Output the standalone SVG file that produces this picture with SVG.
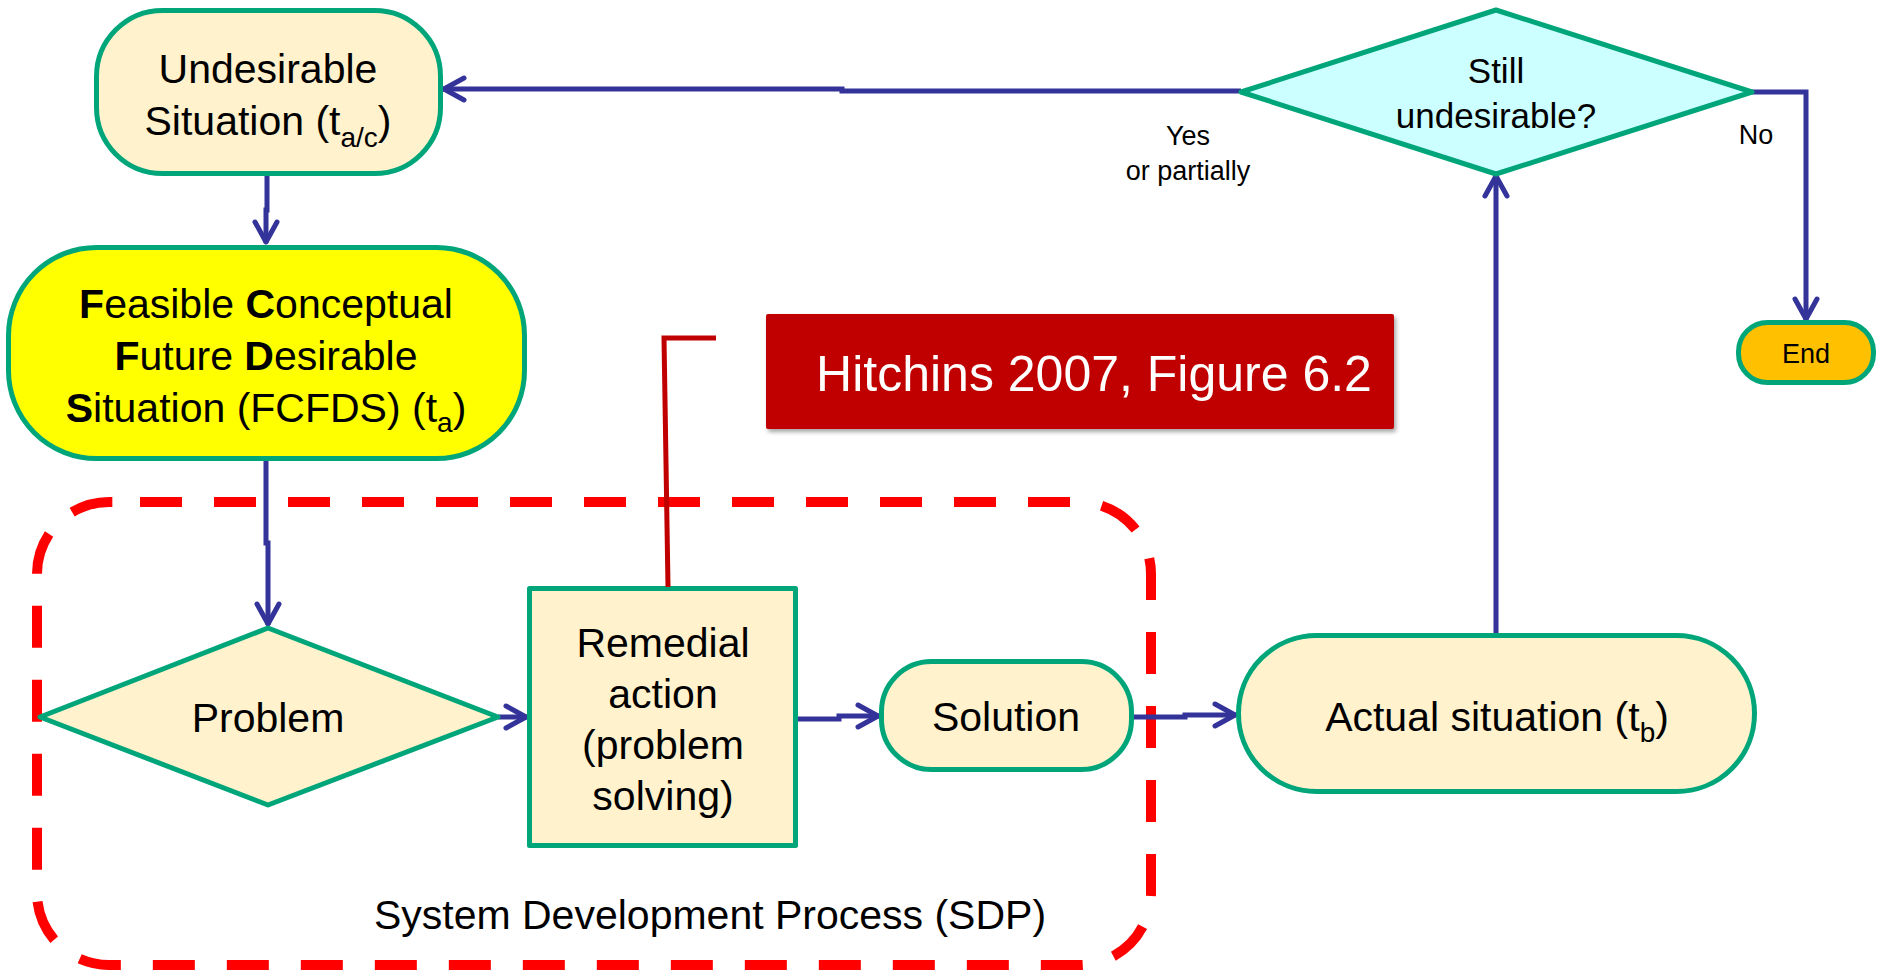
<svg xmlns="http://www.w3.org/2000/svg" width="1878" height="972" viewBox="0 0 1878 972">
  <style>
    .shape { stroke: #00A67A; stroke-width: 5; stroke-linejoin: round; }
    .cream { fill: #FFF2CC; }
    .txt { font-family: "Liberation Sans", Arial, sans-serif; fill: #000000; text-anchor: middle; }
    .big { font-size: 41px; }
    .mid { font-size: 35px; }
    .small { font-size: 27px; }
    .sub { font-size: 28px; }
    .conn path { fill: none; stroke: #333399; stroke-width: 5; stroke-linejoin: miter; marker-end: url(#arrow); }
  </style>
  <defs>
    <marker id="arrow" markerUnits="userSpaceOnUse" viewBox="-26 -16 30 32" markerWidth="30" markerHeight="32" refX="1" refY="0" orient="auto">
      <path d="M-20,-11 L0,0 L-20,11" fill="none" stroke="#333399" stroke-width="5" stroke-linecap="round" stroke-linejoin="round"/>
    </marker>
    <filter id="shadow" x="-5%" y="-10%" width="112%" height="130%">
      <feDropShadow dx="2" dy="3" stdDeviation="2" flood-color="#000000" flood-opacity="0.35"/>
    </filter>
  </defs>

  <!-- System Development Process boundary -->
  <g id="sdp">
    <path d="M140,502 H1079 A72,72 0 0 1 1151,574 V893 A72,72 0 0 1 1079,965 H109 A72,72 0 0 1 37,893 V574 A72,72 0 0 1 109,502 H140" fill="none" stroke="#FF0000" stroke-width="10" stroke-dasharray="42 32"/>
    <text class="txt big" x="710" y="929">System Development Process (SDP)</text>
  </g>

  <!-- Connectors -->
  <g id="connectors" class="conn">
    <path d="M267,176 V210 H266 V243"/>
    <path d="M266,460 V543 H268 V625"/>
    <path d="M498,717 H527"/>
    <path d="M798,719 H839 V716 H879"/>
    <path d="M1134,717 H1185 V715 H1236"/>
    <path d="M1496,633 V175"/>
    <path d="M1241,91 H842 V89 H443"/>
    <path d="M1752,92 H1806 V320"/>
  </g>

  <g id="undesirable">
    <rect class="shape cream" x="96.5" y="10.5" width="344" height="163" rx="66" ry="66"/>
    <text class="txt big" x="268" y="83">Undesirable</text>
    <text class="txt big" x="268" y="135">Situation (t<tspan class="sub" dy="12">a/c</tspan><tspan dy="-12">)</tspan></text>
  </g>

  <g id="fcfds">
    <rect class="shape" x="8.5" y="247.5" width="516" height="211" rx="88" ry="88" fill="#FFFF00"/>
    <text class="txt big" x="266" y="318"><tspan font-weight="bold">F</tspan>easible <tspan font-weight="bold">C</tspan>onceptual</text>
    <text class="txt big" x="266" y="370"><tspan font-weight="bold">F</tspan>uture <tspan font-weight="bold">D</tspan>esirable</text>
    <text class="txt big" x="266" y="422"><tspan font-weight="bold">S</tspan>ituation (FCFDS) (t<tspan class="sub" dy="10">a</tspan><tspan dy="-10">)</tspan></text>
  </g>

  <g id="problem">
    <polygon class="shape cream" points="268,628 498,717 268,805 40,717"/>
    <text class="txt big" x="268" y="732">Problem</text>
  </g>

  <g id="remedial">
    <rect class="shape cream" x="529.5" y="588.5" width="266" height="257"/>
    <text class="txt big" x="663" y="657">Remedial</text>
    <text class="txt big" x="663" y="708">action</text>
    <text class="txt big" x="663" y="759">(problem</text>
    <text class="txt big" x="663" y="810">solving)</text>
  </g>

  <g id="solution">
    <rect class="shape cream" x="881.5" y="661.5" width="250" height="108" rx="50" ry="50"/>
    <text class="txt big" x="1006" y="731">Solution</text>
  </g>

  <g id="actual">
    <rect class="shape cream" x="1238.5" y="635.5" width="516" height="156" rx="78" ry="78"/>
    <text class="txt big" x="1497" y="731">Actual situation (t<tspan class="sub" dy="11">b</tspan><tspan dy="-11">)</tspan></text>
  </g>

  <g id="still-undesirable">
    <polygon class="shape" points="1496,10 1752,92 1496,174 1241,92" fill="#CCFFFF"/>
    <text class="txt mid" x="1496" y="83">Still</text>
    <text class="txt mid" x="1496" y="128">undesirable?</text>
  </g>

  <g id="labels">
    <text class="txt small" x="1188" y="145">Yes</text>
    <text class="txt small" x="1188" y="180">or partially</text>
    <text class="txt small" x="1756" y="144">No</text>
  </g>

  <g id="end">
    <rect class="shape" x="1738.5" y="322.5" width="135" height="60" rx="29" ry="29" fill="#FFC000"/>
    <text class="txt small" x="1806" y="363">End</text>
  </g>

  <g id="citation">
    <polyline points="716,338 664,338 668,587" fill="none" stroke="#C00000" stroke-width="5"/>
    <rect x="766" y="314" width="628" height="115" rx="2" ry="2" fill="#C00000" filter="url(#shadow)"/>
    <text class="txt" x="1094" y="391" font-size="50" style="fill:#FFFFFF">Hitchins 2007, Figure 6.2</text>
  </g>
</svg>
